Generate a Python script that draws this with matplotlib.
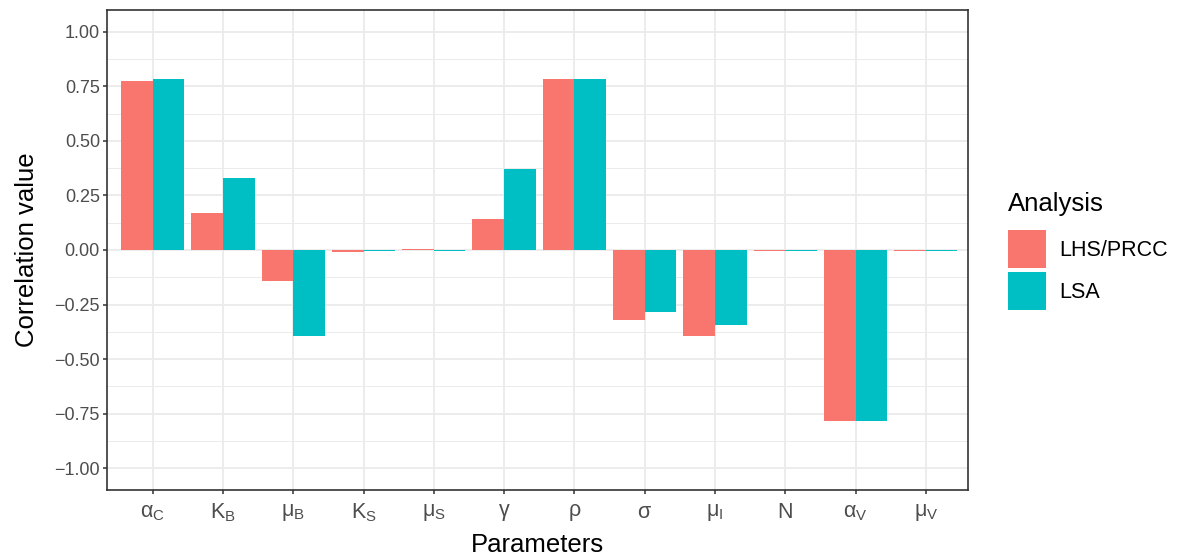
import numpy as np
import matplotlib.pyplot as plt
from matplotlib.patches import Patch
from matplotlib.ticker import MultipleLocator

plt.rcParams['font.family'] = ['Liberation Sans', 'DejaVu Sans']
plt.rcParams['mathtext.fontset'] = 'custom'
plt.rcParams['mathtext.rm'] = 'Liberation Sans'
plt.rcParams['mathtext.it'] = 'Liberation Sans'
plt.rcParams['mathtext.bf'] = 'Liberation Sans:bold'

# parameters and correlation values from each sensitivity analysis
params = [r'$\alpha_{C}$', r'$K_{B}$', r'$\mu_{B}$', r'$K_{S}$', r'$\mu_{S}$',
          r'$\gamma$', r'$\rho$', r'$\sigma$', r'$\mu_{I}$', 'N',
          r'$\alpha_{V}$', r'$\mu_{V}$']
lhs_prcc = [0.775, 0.17, -0.142, -0.01, 0.005, 0.142, 0.784, -0.32, -0.394, -0.005, -0.784, -0.004]
lsa = [0.784, 0.33, -0.394, -0.005, -0.003, 0.372, 0.784, -0.284, -0.344, -0.005, -0.784, -0.004]
series = ['LHS/PRCC', 'LSA']
colors = ['#F8766D', '#00BFC4']
yticks = np.arange(-1, 1.01, 0.25)

fig = plt.figure(figsize=(11.79, 5.59), dpi=100)
ax = fig.add_axes([107 / 1179, 1 - 490 / 559, (968 - 107) / 1179, (490 - 10) / 559])

x = np.arange(len(params))
w = 0.45
ax.bar(x - w / 2, lhs_prcc, width=w, color=colors[0], zorder=3)
ax.bar(x + w / 2, lsa, width=w, color=colors[1], zorder=3)

ax.set_xlim(-0.65, len(params) - 1 + 0.6)
ax.set_ylim(-1.1, 1.1)
ax.yaxis.set_minor_locator(MultipleLocator(0.125))
ax.set_yticks(yticks)
ax.set_yticklabels([('%.2f' % v).replace('-', '\u2212') for v in yticks])
ax.set_xticks(x)
ax.set_xticklabels(params)

ax.grid(True, which='major', color='#EBEBEB', linewidth=1.3, zorder=0)
ax.grid(True, which='minor', axis='y', color='#EBEBEB', linewidth=0.7, zorder=0)
ax.set_axisbelow(True)
for s in ax.spines.values():
    s.set_color('#333333')
    s.set_linewidth(1.2)
ax.tick_params(which='major', length=2.9, width=1.1, color='#333333', labelcolor='#4D4D4D',
               labelsize=13, pad=2.2)
ax.tick_params(which='minor', length=0)
ax.tick_params(axis='x', labelsize=15.5, pad=5.5)

ax.set_xlabel('Parameters', fontsize=18.5, labelpad=6)
ax.set_ylabel('Correlation value', fontsize=18.5, labelpad=11)

# legend: title drawn separately so the gap above the keys can be set
fig.text(1008 / 1179, 1 - 211 / 559, 'Analysis', fontsize=18.5, ha='left', va='baseline')
handles = [Patch(facecolor=c, edgecolor='none') for c in colors]
leg = fig.legend(handles, series, loc='upper left',
                 bbox_to_anchor=(1008 / 1179, 1 - 230 / 559), frameon=False,
                 fontsize=15.5, handlelength=1.77, handleheight=2.35,
                 handletextpad=0.6, labelspacing=0.19, borderpad=0, borderaxespad=0)

fig.savefig('out.png', dpi=100)
